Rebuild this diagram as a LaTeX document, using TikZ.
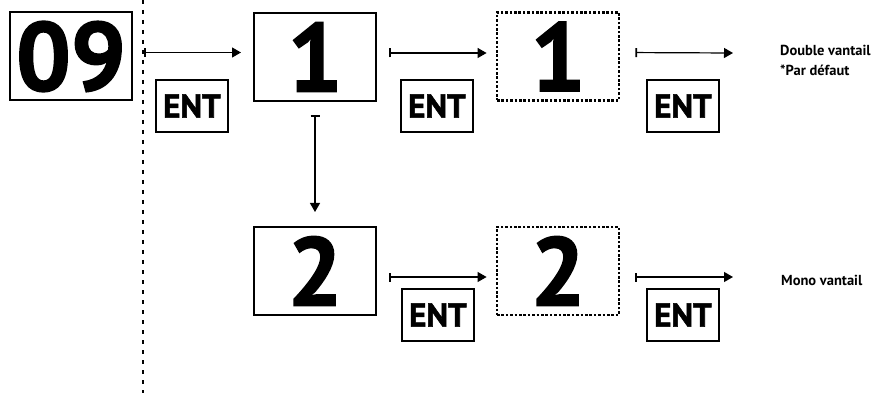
\documentclass[tikz,border=0pt]{standalone}
\usepackage{fontspec}
\setmainfont{PT Sans}
\newfontfamily\heavyfont[BoldFeatures={FakeBold=1.6}]{PT Sans}
\usetikzlibrary{arrows.meta}
\begin{document}
\begin{tikzpicture}[x=1pt,y=-1pt,
  big/.style={draw, line width=2pt, minimum width=122pt, minimum height=88pt, inner sep=0pt, font=\fontsize{97}{97}\heavyfont\bfseries},
  dotbox/.style={big, line width=2.8pt, dash pattern=on 2.6pt off 1.8pt},
  entbox/.style={draw, line width=1.8pt, minimum width=72pt, minimum height=52pt, inner sep=0pt, font=\fontsize{33}{33}\heavyfont\bfseries},
  arr/.style={line width=1.2pt, {Bar[width=9pt,line width=1.8pt]}-{Triangle[length=9pt,width=10pt]}},
  lbl/.style={inner sep=0pt, align=left, font=\fontsize{14.5}{20}\selectfont\bfseries},
  divider/.style={line width=2.2pt, dash pattern=on 4pt off 6pt}
]
\useasboundingbox (0,0) rectangle (879,393);
% divider
\coordinate (dtop) at (143,0);
\coordinate (dbot) at (143,393);
\draw[divider] (dtop) -- (dbot);
% boxes
\node[big] (b09) at (71,56.5) {09};
\node[big] (b1) at (315,57) {1};
\node[dotbox] (d1) at (558,56.5) {1};
\node[big] (b2) at (315,271) {2};
\node[dotbox] (d2) at (558,271) {2};
% ENT boxes
\node[entbox] (e1) at (192,106) {ENT};
\node[entbox] (e2) at (437,106) {ENT};
\node[entbox] (e3) at (683,106) {ENT};
\node[entbox] (e4) at (438,315) {ENT};
\node[entbox] (e5) at (683,315) {ENT};
% labels
\node[lbl, anchor=north west] (l1) at (780,45) {Double vantail\\*Par défaut};
\node[lbl, anchor=base west] (l2) at (781,285) {Mono vantail};
\coordinate (t1) at (733,53);
\coordinate (t2) at (733,277);
% arrows
\draw[arr, shorten <=11pt, shorten >=12pt] ([yshift=4pt]b09.east) -- ([yshift=4pt]b09.east -| b1.west);
\draw[arr, shorten <=12pt, shorten >=9pt] ([yshift=4pt]b1.east) -- ([yshift=4pt]b1.east -| d1.west);
\draw[arr, shorten <=15pt] ([yshift=4pt]d1.east) -- (t1);
\draw[arr, shorten <=13pt, shorten >=14pt] (b1.south) -- (b2.north);
\draw[arr, shorten <=12pt, shorten >=9pt] ([yshift=-6pt]b2.east) -- ([yshift=-6pt]b2.east -| d2.west);
\draw[arr, shorten <=15pt] ([yshift=-6pt]d2.east) -- (t2);
\end{tikzpicture}
\end{document}
